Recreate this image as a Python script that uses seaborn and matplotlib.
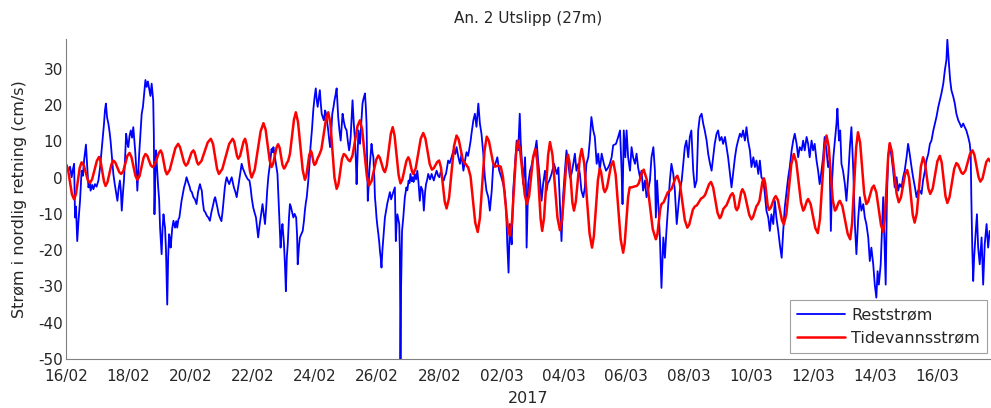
import pandas as pd
import matplotlib
matplotlib.use("Agg")
import matplotlib.pyplot as plt
import seaborn as sns

# Time axis: day offsets from the start of the record (16 Feb 2017 00:00)
start = pd.Timestamp("2017-02-16")
end_day = 29.68

# Residual current (cm/s), northward component
rest_day = [
    0.00, 0.05, 0.09, 0.14, 0.19, 0.23, 0.27, 0.30, 0.33, 0.37, 0.41, 0.46, 0.51, 0.55, 0.59, 0.65,
    0.69, 0.73, 0.77, 0.80, 0.85, 0.89, 0.94, 0.99, 1.05, 1.10, 1.16, 1.20, 1.23, 1.26, 1.29, 1.33,
    1.37, 1.41, 1.44, 1.49, 1.53, 1.57, 1.61, 1.66, 1.70, 1.74, 1.77, 1.80, 1.84, 1.87, 1.91, 1.94,
    1.98, 2.01, 2.05, 2.09, 2.13, 2.17, 2.20, 2.23, 2.27, 2.30, 2.33, 2.36, 2.40, 2.44, 2.48, 2.51,
    2.56, 2.60, 2.64, 2.69, 2.72, 2.76, 2.79, 2.81, 2.83, 2.85, 2.88, 2.90, 2.93, 2.97, 3.00, 3.03,
    3.08, 3.11, 3.14, 3.17, 3.19, 3.22, 3.26, 3.29, 3.32, 3.35, 3.37, 3.42,
    3.46, 3.51, 3.55, 3.58, 3.62, 3.65, 3.69, 3.72, 3.76, 3.80, 3.84, 3.88, 3.92, 3.95, 3.98, 4.01,
    4.05, 4.10, 4.15, 4.20, 4.25, 4.31, 4.34, 4.37, 4.40, 4.44, 4.48, 4.53, 4.58, 4.63, 4.68, 4.74,
    4.77, 4.80, 4.84, 4.87, 4.91,
    4.95, 5.00, 5.04, 5.08, 5.11, 5.14, 5.17, 5.21, 5.25, 5.29, 5.33, 5.37, 5.40, 5.45, 5.49, 5.53,
    5.57, 5.61, 5.65, 5.69, 5.72, 5.77, 5.81, 5.85, 5.90, 5.94, 5.97, 6.02, 6.06, 6.11, 6.15, 6.18,
    6.22, 6.26, 6.29, 6.32, 6.36, 6.40, 6.44, 6.47, 6.51, 6.56, 6.61, 6.64, 6.67, 6.72, 6.76, 6.80,
    6.83, 6.86, 6.90, 6.93, 6.96, 7.01, 7.04, 7.07, 7.10, 7.13, 7.17, 7.20, 7.23, 7.26, 7.31, 7.35,
    7.40, 7.43, 7.45, 7.49, 7.52, 7.57, 7.61, 7.65, 7.68, 7.71, 7.74, 7.79, 7.83, 7.86, 7.91, 7.95,
    7.99, 8.03, 8.06, 8.09, 8.13, 8.16, 8.19, 8.22, 8.26, 8.29, 8.33, 8.36, 8.40, 8.43, 8.46, 8.49,
    8.53, 8.56, 8.60, 8.63, 8.67, 8.70, 8.73, 8.75, 8.79, 8.83, 8.86, 8.89, 8.93, 8.97, 9.02, 9.06,
    9.10, 9.13, 9.15, 9.18, 9.21, 9.25, 9.29, 9.32, 9.34, 9.37, 9.40, 9.45, 9.49, 9.53, 9.57, 9.61,
    9.64, 9.66, 9.68, 9.70, 9.73, 9.75, 9.79, 9.82, 9.85, 9.88, 9.91, 9.93, 9.96, 9.98, 10.01, 10.04,
    10.07, 10.09, 10.12, 10.14, 10.17, 10.20, 10.25, 10.29, 10.33, 10.37, 10.41,
    10.45, 10.50, 10.54, 10.57, 10.60, 10.63, 10.65, 10.68, 10.71, 10.73, 10.75, 10.77, 10.80, 10.84,
    10.89, 10.94, 10.97, 11.01, 11.04, 11.07, 11.11, 11.14, 11.17, 11.21, 11.25, 11.29, 11.33,
    11.37, 11.41, 11.46, 11.50, 11.54, 11.57, 11.61, 11.64, 11.70, 11.75, 11.82, 11.87, 11.91, 11.96,
    12.00, 12.04, 12.07, 12.11, 12.14, 12.18, 12.21, 12.25, 12.28, 12.33, 12.39, 12.45, 12.51, 12.55,
    12.61, 12.66, 12.71, 12.77, 12.82, 12.87, 12.92, 12.96, 13.00, 13.03, 13.09, 13.14, 13.19, 13.25,
    13.30, 13.35, 13.41, 13.46, 13.51, 13.57, 13.62, 13.68, 13.73, 13.78, 13.82, 13.86, 13.92, 13.99,
    14.05, 14.10, 14.14, 14.18, 14.22, 14.26, 14.29, 14.32, 14.37, 14.42, 14.48, 14.53, 14.58, 14.61,
    14.64, 14.69, 14.75, 14.78, 14.80, 14.83, 14.85, 14.91, 14.95, 14.99, 15.03, 15.07, 15.12, 15.17,
    15.23, 15.28, 15.33, 15.39, 15.44, 15.48, 15.53, 15.60, 15.68, 15.77, 15.82,
    15.87, 15.92, 15.97, 16.03, 16.08, 16.14, 16.19, 16.24, 16.30, 16.35, 16.40, 16.46, 16.51, 16.56,
    16.62, 16.67, 16.72, 16.78, 16.83, 16.88, 16.94, 16.99, 17.05, 17.10, 17.15, 17.21, 17.28, 17.35,
    17.42, 17.47, 17.53, 17.58, 17.67, 17.74, 17.80, 17.85, 17.88, 17.92, 17.97, 18.01, 18.06, 18.12,
    18.17, 18.22, 18.28, 18.33, 18.38, 18.44, 18.49, 18.54, 18.60, 18.65, 18.70, 18.76, 18.81, 18.87,
    18.92, 18.95, 18.99, 19.04, 19.08, 19.13, 19.19, 19.24, 19.29, 19.35, 19.40, 19.45, 19.51, 19.56,
    19.62, 19.67, 19.72, 19.78, 19.83, 19.88, 19.93, 19.99, 20.04, 20.09, 20.15, 20.20, 20.26, 20.31,
    20.36, 20.42, 20.47, 20.52, 20.58, 20.63,
    20.68, 20.74, 20.79, 20.84, 20.90, 20.95, 21.00, 21.06, 21.11, 21.17, 21.22, 21.27, 21.33, 21.38,
    21.43, 21.49, 21.54, 21.59, 21.65, 21.70, 21.75, 21.81, 21.86, 21.91, 21.97, 22.02, 22.08, 22.13,
    22.18, 22.24, 22.29, 22.34, 22.40, 22.45, 22.50, 22.56, 22.61, 22.66, 22.72, 22.77, 22.82, 22.88,
    22.93, 22.99, 23.04, 23.09, 23.15, 23.20, 23.25, 23.31, 23.36, 23.41, 23.47, 23.52, 23.57, 23.63,
    23.68, 23.73, 23.79, 23.84, 23.89, 23.95, 24.00, 24.05, 24.11, 24.16, 24.21, 24.27, 24.32, 24.37,
    24.43, 24.48, 24.53,
    24.57, 24.61, 24.65, 24.70, 24.75, 24.78, 24.83, 24.87, 24.91, 24.96, 25.02, 25.07, 25.13, 25.18,
    25.23, 25.29, 25.34, 25.39, 25.45, 25.50, 25.55, 25.61, 25.66, 25.71, 25.77, 25.82, 25.87, 25.93,
    25.98, 26.03, 26.07, 26.11, 26.17, 26.22, 26.25, 26.28, 26.33, 26.37, 26.41, 26.46, 26.52, 26.57,
    26.62, 26.68, 26.73, 26.78, 26.84, 26.89, 26.94, 27.00, 27.05, 27.10, 27.16, 27.21, 27.27, 27.32,
    27.37, 27.43, 27.48, 27.53, 27.59, 27.64, 27.70, 27.75, 27.80, 27.86, 27.91, 27.96, 28.02, 28.07,
    28.12, 28.18, 28.23, 28.28, 28.31, 28.36, 28.40, 28.44, 28.50, 28.55, 28.60, 28.66, 28.71, 28.76,
    28.82, 28.87, 28.92, 28.98, 29.03, 29.06, 29.08, 29.11, 29.14, 29.17, 29.21, 29.26, 29.30, 29.35,
    29.41, 29.46, 29.51, 29.57, 29.62, 29.67,
]
rest_val = [
    3.8, 2.5, 1.9, 3.0, 0.1, 2.2, 3.8, -11.0, -8.0, -17.5, -12.0, -6.4, 1.9, 0.5, 4.7, 9.1,
    3.0, -2.7, -1.5, -3.6, -2.0, -3.2, -1.8, -2.5, -0.8, 2.5, 8.4, 12.0, 14.9, 18.5, 20.4, 16.5,
    14.9, 12.5, 10.2, 5.0, 1.0, -1.5, -3.6, -6.4, -3.0, -0.8, -3.5, -9.1, -4.0, -0.8, 6.0, 12.1,
    9.5, 8.4, 11.5, 13.0, 11.0, 13.9, 10.5, 7.5, 2.0, -3.6, 1.5, 6.6, 12.0, 17.6, 19.5, 22.3,
    26.9, 25.0, 26.5, 24.1, 22.5, 25.9, 23.0, 21.3, 12.0, -10.1, 2.0, 7.5, 3.0, -2.7, -6.0, -13.8,
    -21.1, -14.0, -10.1, -12.5, -13.8, -20.0, -35.0, -22.0, -15.6, -17.0, -19.3, -14.0,
    -11.9, -13.8, -12.0, -13.8, -11.5, -11.0, -8.5, -6.4, -4.5, -2.7, -1.5, 0.1, -1.0, -1.8, -2.5, -3.6,
    -4.0, -5.4, -6.0, -7.3, -4.0, -1.8, -2.8, -3.6, -6.5, -9.1, -9.5, -10.5, -11.0, -11.9, -9.5, -7.3,
    -6.0, -5.4, -7.0, -8.2, -10.0,
    -11.0, -12.0, -9.1, -5.5, -2.7, -1.0, 0.1, -1.0, -1.8, -0.8, 0.1, -1.5, -2.7, -4.0, -5.4, -3.0,
    -0.8, 1.5, 3.8, 2.5, 1.9, 0.8, 0.1, -0.5, -0.8, -3.0, -5.4, -8.2, -9.5, -11.0, -14.0, -16.5,
    -13.5, -11.0, -9.0, -7.3, -10.0, -12.8, -8.0, -3.6, 0.5, 3.8, 7.9, 7.0, 8.4, 5.6, 3.5, 1.0,
    -5.0, -11.0, -19.3, -15.0, -12.8, -18.4, -24.0, -31.3, -22.0, -18.4, -11.0, -7.3, -8.0, -9.1, -11.0, -10.0,
    -11.0, -16.0, -23.9, -19.0, -16.5, -15.5, -14.7, -12.0, -9.1, -7.0, -5.4, -0.8, 4.0, 8.4, 13.5, 18.6,
    22.0, 24.6, 21.5, 19.5, 22.0, 24.1, 20.5, 17.6, 16.5, 15.8, 18.5, 17.6, 15.0, 13.0, 10.5, 8.4,
    13.0, 17.6, 19.5, 21.3, 23.0, 24.6, 20.0, 16.7, 13.0, 10.2, 14.0, 17.6, 15.5, 13.9, 13.0, 10.0,
    7.5, 9.5, 11.2, 16.0, 21.3, 15.0, 10.2, 4.0, -1.8, 6.0, 13.0, 9.3, 15.0, 20.4, 22.0, 23.2,
    19.0, 14.9, 4.0, -6.4, -2.0, 1.9, 6.0, 9.3, 7.0, 5.6, 0.0, -5.4, -8.5, -11.0, -13.5, -15.6,
    -18.0, -20.2, -22.5, -24.8, -20.0, -16.5, -11.0, -9.0, -7.0, -5.5, -4.0,
    -6.0, -4.5, -3.5, -2.7, -17.5, -12.0, -10.1, -11.5, -12.8, -20.0, -50.0, -30.0, -14.7, -11.0,
    -5.4, -2.7, -3.5, -0.8, -1.5, 1.0, -1.0, 0.1, -1.2, 1.0, -0.5, 1.9, -1.5,
    -6.4, -2.5, -3.6, -9.1, -4.0, -1.8, -0.5, 1.0, -0.5, 1.0, -0.8, 0.8, 1.9, 0.5,
    0.1, 1.5, 1.0, -0.5, -0.8, 0.5, 1.0, 3.0, 4.7, 4.0, 5.6, 7.5, 6.5, 8.4,
    5.6, 3.8, 6.5, 1.9, 4.6, 7.0, 6.0, 7.9, 10.0, 12.1, 15.8, 17.6, 14.0, 20.4,
    14.9, 12.1, 6.5, 0.1, -3.6, -5.4, -9.1, -3.6, 3.8, 3.3, 4.5, 5.6, 1.9, 0.1,
    -1.8, -4.0, -8.2, -18.4, -26.2, -12.8, -15.0, -18.4, -3.6, 2.8, 10.2, 7.5, 17.6, 10.0,
    5.6, -1.8, 5.6, -3.0, -19.3, -8.0, -1.8, 1.9, 3.0, 4.6, 6.0, 7.5, 10.2, 4.6,
    -0.8, -6.4, -1.8, 1.9, -3.6, -1.5, -0.8, 1.0, 3.8, 1.0, 2.8,
    -7.3, -17.5, -5.4, 1.9, 7.5, 3.8, 0.1, 1.0, 3.8, 6.6, 1.9, 3.8, 1.0, -3.6,
    -5.4, -2.7, 3.8, 5.6, 10.2, 16.7, 13.0, 11.2, 3.8, 6.6, 1.9, 6.6, 3.8, 1.9,
    2.8, 3.8, 5.6, 8.9, 9.3, 11.2, 13.0, 1.9, -7.3, 13.0, 5.6, 13.0, 5.6, 1.9,
    8.4, 5.6, 3.8, 6.6, 2.8, 0.1, 1.9, -3.6, -0.8, -5.4, -3.6, -0.8, 5.6, 8.4,
    1.9, -11.0, -0.8, -9.1, -16.5, -30.4, -16.5, -22.1, -14.7, -7.3, -0.8, 3.8, 1.0, -3.6,
    -12.8, -8.2, -3.6, -0.8, 3.8, 8.4, 10.2, 5.6, 11.2, 13.0, 1.9, -2.7, -0.8, 13.0,
    16.7, 17.6, 14.9, 13.0, 10.2, 6.6,
    4.2, 1.9, 5.6, 9.3, 12.1, 13.0, 10.2, 11.2, 9.3, 11.2, 8.4, 5.6, 1.0, -2.7,
    1.0, 5.6, 8.4, 10.2, 12.1, 11.2, 13.0, 10.2, 13.9, 10.2, 7.5, 2.9, 5.6, 2.9,
    4.7, 1.0, 4.7, 0.1, -0.8, -4.5, -9.1, -11.0, -14.7, -10.1, -12.8, -6.4, -11.0, -14.7,
    -18.4, -22.1, -14.7, -8.2, -3.6, 0.1, 2.9, 7.5, 10.2, 12.1, 9.3, 5.6, 8.4, 7.5,
    10.2, 7.5, 11.2, 9.3, 5.6, 10.2, 7.5, 9.3, 4.7, 1.9, -1.8, 1.9, 5.6, 11.2,
    7.5, 2.9, 4.7,
    -14.7, -0.8, 5.6, 10.2, 14.9, 19.0, 10.2, 13.0, 3.8, 1.9, -1.8, -6.4, 1.0, 8.4,
    13.9, 1.9, -12.8, -21.1, -11.0, -5.4, -9.1, -7.3, -11.0, -12.8, -16.5, -23.0, -19.3, -23.9,
    -29.5, -33.1, -25.8, -29.5, -23.9, -12.8, -5.4, -14.7, -29.5, -5.4, 5.6, 9.3, 5.6, 1.9,
    -2.7, 0.1, -3.6, -1.8, -2.7, 0.1, 1.9, 5.6, 9.3, 6.6, 2.9, 0.1, -2.7, -5.4,
    -3.6, -3.6, -4.5, -0.8, 1.9, 4.7, 6.6, 9.3, 10.2, 13.0, 14.9, 16.7, 19.5, 21.3,
    23.2, 25.9, 29.6, 32.4, 38.0, 31.5, 26.9, 24.1, 22.3, 20.4, 17.6, 15.8, 14.9, 13.9,
    14.9, 13.9, 13.0, 11.2, 9.3, 6.6, -5.4, -19.3, -28.5, -22.1, -16.5, -10.1, -19.3, -23.9,
    -16.5, -29.5, -18.4, -12.8, -19.3, -14.7,
]

# Tidal current (cm/s)
tide_day = [
    0.00, 0.07, 0.20, 0.27, 0.33, 0.45, 0.51, 0.58, 0.71, 0.78, 0.85, 1.00, 1.07, 1.12, 1.23, 1.28,
    1.34, 1.47, 1.53, 1.59, 1.72, 1.78, 1.85, 1.98, 2.05, 2.11, 2.24, 2.30, 2.37, 2.50, 2.56, 2.62,
    2.73, 2.79, 2.86, 2.99, 3.05, 3.10, 3.20, 3.25, 3.34, 3.52, 3.61, 3.67, 3.80, 3.86, 3.92, 4.04,
    4.10, 4.14, 4.22, 4.26, 4.36, 4.56, 4.66, 4.73, 4.86, 4.92, 5.03, 5.25, 5.36, 5.41, 5.50, 5.54,
    5.60, 5.71, 5.76, 5.81, 5.92, 5.97, 6.07, 6.26, 6.35, 6.42, 6.55, 6.61, 6.66, 6.77, 6.82, 6.87,
    6.96, 7.01, 7.04, 7.11, 7.14, 7.20, 7.33, 7.39, 7.46, 7.61, 7.68, 7.73, 7.82, 7.87, 7.90, 7.96,
    7.99, 8.03, 8.10, 8.13, 8.21, 8.36, 8.43, 8.50, 8.63, 8.70, 8.76, 8.87, 8.93, 8.98, 9.08, 9.13,
    9.21, 9.37, 9.45, 9.52, 9.67, 9.74, 9.82, 9.97, 10.04, 10.09, 10.20, 10.25, 10.31, 10.44, 10.50,
    10.56, 10.69, 10.75, 10.81, 10.94, 11.00, 11.04, 11.12, 11.16, 11.24, 11.40, 11.48, 11.55, 11.69,
    11.76, 11.82, 11.93, 11.99, 12.05, 12.17, 12.23, 12.31, 12.47, 12.55, 12.62, 12.75, 12.82, 12.85,
    12.90, 12.92, 13.00, 13.15, 13.23, 13.30, 13.45, 13.52, 13.59, 13.72, 13.78, 13.88, 13.97, 14.04,
    14.19, 14.26, 14.33, 14.46, 14.52, 14.59, 14.74, 14.81, 14.88, 15.01, 15.08, 15.14, 15.25, 15.30,
    15.36, 15.49, 15.55, 15.63, 15.79, 15.87, 15.94, 16.07, 16.13, 16.18, 16.27, 16.32, 16.38, 16.51,
    16.57, 16.65, 16.82, 16.90, 16.96, 17.09, 17.15, 17.19, 17.27, 17.31, 17.38, 17.51, 17.58, 17.66,
    17.82, 17.90, 17.95, 18.06, 18.11, 18.17, 18.28, 18.34, 18.40, 18.51, 18.56, 18.66, 18.85, 18.95,
    19.00, 19.09, 19.13, 19.20, 19.33, 19.40, 19.46, 19.58, 19.64, 19.72, 19.88, 19.96, 20.02, 20.14,
    20.20, 20.27, 20.40, 20.47, 20.53, 20.66, 20.72, 20.79, 20.93, 21.00, 21.04, 21.12, 21.16, 21.22,
    21.35, 21.41, 21.45, 21.51, 21.55, 21.60, 21.69, 21.73, 21.80, 21.95, 22.02, 22.07, 22.18, 22.23,
    22.28, 22.37, 22.42, 22.46, 22.54, 22.58, 22.64, 22.75, 22.80, 22.87, 23.00, 23.06, 23.14, 23.30,
    23.38, 23.46, 23.61, 23.68, 23.72, 23.80, 23.84, 23.92, 24.07, 24.15, 24.22, 24.36, 24.43, 24.50,
    24.63, 24.70, 24.74, 24.82, 24.86, 24.94, 25.11, 25.19, 25.25, 25.38, 25.44, 25.51, 25.64, 25.71,
    25.77, 25.89, 25.95, 26.03, 26.18, 26.25, 26.30, 26.41, 26.46, 26.53, 26.68, 26.75, 26.82, 26.95,
    27.02, 27.08, 27.20, 27.26, 27.33, 27.46, 27.53, 27.59, 27.70, 27.76, 27.84, 27.99, 28.07, 28.13,
    28.25, 28.31, 28.38, 28.53, 28.60, 28.65, 28.76, 28.81, 28.89, 29.04, 29.12, 29.18, 29.31, 29.37,
    29.44, 29.56, 29.63, 29.68,
]
tide_val = [
    3.9, 2.5, -4.6, -6.0, -4.5, 2.7, 4.2, 3.4, -0.7, -1.5, -0.4, 4.6, 5.7, 4.5, -1.1, -2.3,
    -1.3, 3.7, 4.7, 4.2, 1.5, 1.0, 1.8, 6.0, 6.8, 5.7, 0.5, -0.6, 0.4, 5.5, 6.5, 6.0,
    3.4, 2.9, 3.6, 6.8, 7.5, 6.5, 1.9, 0.9, 2.1, 8.1, 9.3, 8.4, 4.2, 3.3, 3.9, 6.9,
    7.5, 6.9, 4.2, 3.6, 4.6, 9.7, 10.7, 9.3, 2.4, 1.0, 2.4, 9.3, 10.7, 9.9, 6.0, 5.2,
    6.0, 9.9, 10.7, 9.1, 1.6, 0.0, 2.2, 12.8, 15.0, 13.2, 4.7, 2.9, 3.8, 8.3, 9.2, 8.2,
    3.5, 2.5, 2.8, 4.2, 4.5, 6.5, 16.0, 18.0, 15.3, 2.1, -0.6, 0.6, 6.2, 7.4, 6.8, 4.1,
    3.5, 3.9, 5.6, 6.0, 7.8, 16.2, 18.0, 14.9, 0.0, -3.1, -1.7, 5.1, 6.5, 6.2, 4.8, 4.5,
    6.1, 14.2, 15.8, 13.2, 0.4, -2.2, -1.0, 4.9, 6.1, 5.4, 2.2, 1.5, 3.3, 12.1, 13.9,
    11.6, 0.7, -1.6, -0.5, 4.6, 5.6, 4.9, 1.7, 1.0, 2.6, 10.7, 12.3, 10.8, 3.7,
    2.2, 2.6, 4.3, 4.7, 2.8, -6.6, -8.5, -5.6, 8.7, 11.6, 10.5, 4.9, 3.8, 3.7,
    3.0, 2.9, 0.3, -12.4, -15.0, -11.2, 7.5, 11.3, 10.1, 4.2, 3.0, 3.3, 3.0, 0.2,
    -13.2, -16.0, -12.2, 6.4, 10.2, 7.6, -4.7, -7.3, -5.1, 5.7, 7.9, 4.6, -11.4, -14.7,
    -11.1, 6.2, 9.8, 6.3, -11.0, -14.5, -11.5, 3.3, 6.3, 4.1, -6.9, -9.1, -6.6, 5.4,
    7.9, 3.9, -15.3, -19.3, -16.1, -0.7, 2.5, 1.6, -3.1, -4.0, -2.8, 3.3, 4.5, 0.8,
    -17.0, -20.7, -18.1, -5.3, -2.7, -2.7, -2.4, -2.3, -1.6, 1.5, 2.2, -0.6, -14.2, -17.0,
    -15.6, -8.7, -7.3, -6.8, -4.1, -3.6, -3.0, -0.1, 0.5, -1.6, -11.7, -13.8, -13.0, -8.8,
    -8.0, -7.6, -5.8, -5.4, -4.8, -1.8, -1.2, -2.7, -9.7, -11.2, -10.8, -8.6, -8.2, -7.6,
    -4.9, -4.3, -5.0, -8.3, -9.0, -8.2, -4.0, -3.2, -4.4, -10.3, -11.5, -10.9, -7.9, -7.3,
    -6.3, -1.2, -0.2, -1.5, -7.6, -8.9, -8.3, -5.7, -5.1, -6.2, -11.8, -12.9, -10.1, 3.7,
    6.5, 4.2, -6.8, -9.1, -8.6, -6.4, -5.9, -7.3, -13.9, -15.3, -11.4, 7.7, 11.6, 8.6,
    -6.1, -9.1, -8.7, -6.8, -6.4, -7.9, -15.5, -17.0, -12.7, 8.2, 12.5, 9.6, -4.4, -7.3,
    -6.6, -2.9, -2.2, -4.1, -13.1, -15.0, -11.4, 5.9, 9.5, 7.1, -4.4, -6.8, -5.5, 0.8,
    2.1, 0.0, -10.3, -12.4, -9.8, 3.0, 5.6, 4.1, -3.0, -4.5, -3.0, 4.5, 6.0, 4.1,
    -5.1, -7.0, -5.4, 2.4, 4.0, 3.6, 1.4, 1.0, 1.9, 6.6, 7.5, 6.2, 0.2, -1.1,
    -0.2, 4.3, 5.2, 4.5,
]

y_ticks = [-50, -40, -30, -20, -10, 0, 10, 20, 30]

sns.set_theme(style="white")
plt.rcParams["font.family"] = ["DejaVu Sans"]
plt.rcParams["axes.unicode_minus"] = False

rest = pd.DataFrame({"tid": start + pd.to_timedelta(rest_day, unit="D"), "strom": rest_val})
tide = pd.DataFrame({"tid": start + pd.to_timedelta(tide_day, unit="D"), "strom": tide_val})

fig = plt.figure(figsize=(9.91, 4.08), dpi=100)
ax = fig.add_axes([0.0663, 0.1201, 0.9327, 0.7843])

sns.lineplot(data=rest, x="tid", y="strom", ax=ax, color="#0000ff", linewidth=1.3,
             estimator=None, sort=False, label="Reststrøm")
sns.lineplot(data=tide, x="tid", y="strom", ax=ax, color="#ff0000", linewidth=1.8,
             estimator=None, sort=False, label="Tidevannsstrøm")

ax.set_xlim(start, start + pd.Timedelta(days=end_day))
ax.set_ylim(-50, 38.2)
ax.set_yticks(y_ticks)

days = pd.date_range(start, periods=30, freq="D")
ax.set_xticks(days)
ax.set_xticklabels([d.strftime("%d/%m") if i % 2 == 0 else "" for i, d in enumerate(days)])

for side in ("top", "right"):
    ax.spines[side].set_visible(False)
for side in ("left", "bottom"):
    ax.spines[side].set_color("#808080")
    ax.spines[side].set_linewidth(0.8)

ax.tick_params(axis="both", direction="in", length=4, width=0.8, color="#808080",
               labelcolor="#262626", labelsize=11)
ax.tick_params(axis="x", pad=7)
ax.tick_params(axis="y", pad=2)

ax.set_xlabel("2017", fontsize=11.5, color="#262626")
ax.xaxis.set_label_coords(0.5, -0.10)
ax.set_ylabel("Strøm i nordlig retning (cm/s)", fontsize=11.5, color="#262626")
ax.yaxis.set_label_coords(-0.042, 0.5)
ax.set_title("An. 2 Utslipp (27m)", fontsize=11, color="#262626", y=1.0656, va="center", pad=0)

leg = ax.legend(loc="lower right", bbox_to_anchor=(0.997, 0.02), borderaxespad=0,
                frameon=True, fancybox=False, edgecolor="#a0a0a0", framealpha=1,
                fontsize=11.5, handlelength=2.95, handletextpad=0.4, labelspacing=0.5,
                borderpad=0.47)
leg.get_frame().set_linewidth(0.8)

fig.savefig("out.png", dpi=100)
